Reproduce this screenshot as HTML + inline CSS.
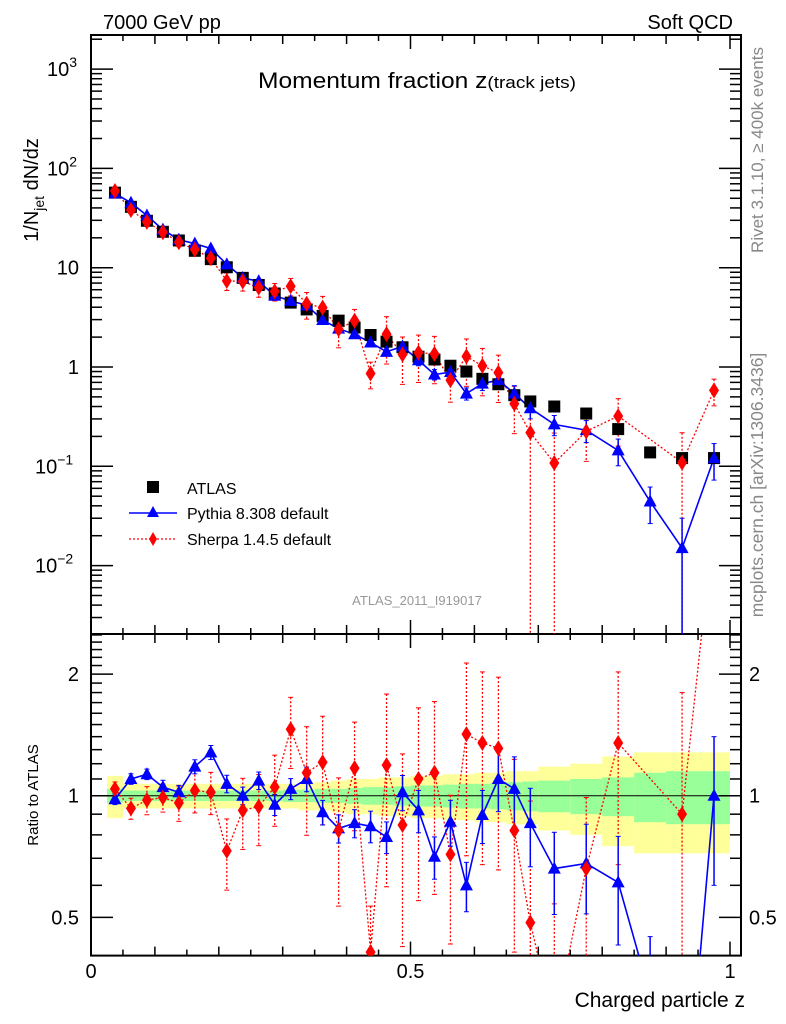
<!DOCTYPE html>
<html><head><meta charset="utf-8"><style>
html,body{margin:0;padding:0;background:#fff;width:786px;height:1024px;overflow:hidden;}
svg{display:block;font-family:"Liberation Sans",Arial,sans-serif;}
</style></head><body>
<svg id="chart" width="786" height="1024" viewBox="0 0 786 1024" xmlns="http://www.w3.org/2000/svg">
<g id="bands"></g>
<g id="axes"></g>
<g id="marks"></g>
<text x="103" y="29" font-size="20">7000 GeV pp</text>
<text x="733" y="29" font-size="20" text-anchor="end">Soft QCD</text>
<text x="258" y="88" font-size="22" textLength="318" lengthAdjust="spacingAndGlyphs">Momentum fraction z<tspan font-size="17">(track jets)</tspan></text>
<text transform="translate(38,190) rotate(-90)" font-size="20" text-anchor="middle">1/N<tspan font-size="14" dy="6">jet</tspan><tspan dy="-6"> dN/dz</tspan></text>
<text transform="translate(38,795) rotate(-90)" font-size="15" text-anchor="middle">Ratio to ATLAS</text>
<text x="745" y="1007" font-size="21" text-anchor="end">Charged particle z</text>
<text transform="translate(763,150) rotate(-90)" font-size="17" fill="#888" text-anchor="middle">Rivet 3.1.10, ≥ 400k events</text>
<text transform="translate(763,485) rotate(-90)" font-size="17.5" fill="#888" text-anchor="middle">mcplots.cern.ch [arXiv:1306.3436]</text>
<text x="417" y="605" font-size="13" fill="#999" text-anchor="middle">ATLAS_2011_I919017</text>
<g>
<rect x="147" y="481" width="12" height="12" fill="#000"/>
<text x="187" y="494" font-size="16">ATLAS</text>
<line x1="129" y1="513" x2="177" y2="513" stroke="#00f" stroke-width="1.5"/>
<polygon points="153,506 159,517 147,517" fill="#00f"/>
<text x="187" y="519" font-size="16">Pythia 8.308 default</text>
<line x1="129" y1="539" x2="177" y2="539" stroke="#f00" stroke-width="1.2" stroke-dasharray="2,2"/>
<polygon points="153,532 157,539 153,546 149,539" fill="#f00"/>
<text x="187" y="545" font-size="16">Sherpa 1.4.5 default</text>
</g>
</svg>
<script>
const binCenters=[0.0375,0.0625,0.0875,0.1125,0.1375,0.1625,0.1875,0.2125,0.2375,0.2625,0.2875,0.3125,0.3375,0.3625,0.3875,0.4125,0.4375,0.4625,0.4875,0.5125,0.5375,0.5625,0.5875,0.6125,0.6375,0.6625,0.6875,0.725,0.775,0.825,0.875,0.925,0.975];
const atlas=[57,41,29.7,23,18.8,14.8,12.2,10.1,7.9,6.7,5.5,4.45,3.8,3.27,2.93,2.5,2.1,1.8,1.58,1.27,1.19,1.03,0.9,0.76,0.67,0.52,0.45,0.40,0.34,0.237,0.138,0.121,0.121];
const pythiaRatio=[0.98,1.10,1.13,1.05,1.02,1.18,1.28,1.07,1.00,1.09,0.95,1.04,1.10,0.91,0.83,0.855,0.84,0.79,1.02,0.92,0.706,0.862,0.60,0.896,1.10,1.04,0.855,0.66,0.68,0.61,0.32,0.124,1.0];
const pythiaErr=[0.03,0.03,0.03,0.04,0.04,0.04,0.04,0.05,0.05,0.05,0.06,0.06,0.07,0.07,0.08,0.08,0.09,0.09,0.1,0.12,0.12,0.13,0.14,0.15,0.17,0.2,0.22,0.23,0.25,0.3,0.4,1.0,0.4];
const sherpaRatio=[1.04,0.93,0.975,0.99,0.96,1.03,1.02,0.73,0.92,0.94,1.05,1.46,1.14,1.21,0.82,1.17,0.41,1.19,0.846,1.10,1.14,0.716,1.42,1.35,1.31,0.82,0.485,0.27,0.66,1.35,null,0.90,4.8];
const sherpaErr=[0.04,0.06,0.08,0.08,0.1,0.12,0.12,0.2,0.2,0.2,0.2,0.2,0.3,0.3,0.35,0.3,0.3,0.5,0.5,0.5,0.5,0.4,0.5,0.5,0.5,0.5,1.0,1.0,0.5,0.5,null,1.0,0.3];
const greenBand=[0.04,0.03,0.03,0.03,0.03,0.03,0.03,0.03,0.03,0.03,0.03,0.035,0.035,0.04,0.04,0.045,0.05,0.05,0.055,0.06,0.06,0.065,0.07,0.07,0.075,0.08,0.085,0.09,0.1,0.11,0.14,0.15,0.15];
const yellowBand=[0.12,0.07,0.07,0.07,0.07,0.07,0.07,0.07,0.07,0.07,0.07,0.07,0.08,0.08,0.09,0.1,0.1,0.11,0.11,0.12,0.12,0.13,0.13,0.14,0.14,0.15,0.15,0.18,0.2,0.25,0.28,0.28,0.28];
const mainTicks=["10^3","10^2","10","1","10^-1","10^-2"];
const ratioTicks=[2,1,0.5];
const xTicks=[0,0.5,1];

const NS="http://www.w3.org/2000/svg";
const L=91,R=741,T=35,MB=634,RB=955.6;
const X=z=>L+z*639;
const YM=v=>267.7-(Math.log10(v)-1)*99.3;
const YR=v=>795.7-Math.log10(v)*404;
function mk(tag,attrs,parent){const e=document.createElementNS(NS,tag);for(const k in attrs)e.setAttribute(k,attrs[k]);parent.appendChild(e);return e;}
const axes=document.getElementById('axes'),marks=document.getElementById('marks'),bands=document.getElementById('bands');
const clipM=mk('clipPath',{id:'cm'},document.getElementById('chart'));mk('rect',{x:L,y:T,width:R-L,height:MB-T},clipM);
const clipR=mk('clipPath',{id:'cr'},document.getElementById('chart'));mk('rect',{x:L,y:MB,width:R-L,height:RB-MB},clipR);

const bg=mk('g',{'clip-path':'url(#cr)'},bands);
binCenters.forEach((c,i)=>{
 const hw=i<27?0.0125:0.025;
 const x1=X(c-hw),w=X(c+hw)-x1;
 const y=mk('rect',{x:x1,y:YR(1+yellowBand[i]),width:w,height:YR(1-yellowBand[i])-YR(1+yellowBand[i]),fill:'#ffff99'},bg);
 
 
 const g=mk('rect',{x:x1,y:YR(1+greenBand[i]),width:w,height:YR(1-greenBand[i])-YR(1+greenBand[i]),fill:'#99ff99'},bg);
 
 
});
mk('line',{x1:L,x2:R,y1:YR(1),y2:YR(1),stroke:'#000','stroke-width':1},axes);

mk('rect',{x:L,y:T,width:R-L,height:MB-T,fill:'none',stroke:'#000','stroke-width':2},axes);
mk('rect',{x:L,y:MB,width:R-L,height:RB-MB,fill:'none',stroke:'#000','stroke-width':2},axes);
for(let k=0;k<=20;k++){const z=k*0.05,x=X(z);const len=k%10==0?14:(k%2==0?9:6);
 [[T,1],[MB,-1],[MB,1],[RB,-1]].forEach(([y,d])=>mk('line',{x1:x,x2:x,y1:y,y2:y+d*len,stroke:'#000','stroke-width':1.5},axes));}
xTicks.forEach(t=>{const e=mk('text',{x:X(t),y:978,'font-size':20,'text-anchor':'middle'},axes);e.textContent=String(t);
 
 });
for(let d=-3;d<=3;d++){for(let m=1;m<10;m++){const v=m*Math.pow(10,d);const y=YM(v);if(y<T||y>MB)continue;const len=m==1?22:11;
 mk('line',{x1:L,x2:L+len,y1:y,y2:y,stroke:'#000','stroke-width':1.5},axes);mk('line',{x1:R,x2:R-len,y1:y,y2:y,stroke:'#000','stroke-width':1.5},axes);}}
const mainVals=[1000,100,10,1,0.1,0.01];
mainTicks.forEach((t,i)=>{const y=YM(mainVals[i])+7;const p=t.split('^');
 const e=mk('text',{x:79,y:y,'font-size':20,'text-anchor':'end'},axes);
 
 
 if(p.length>1){e.setAttribute('text-anchor','start');e.setAttribute('x',p[1].length>1?35:47);e.textContent='10';const s=mk('tspan',{'font-size':14,dy:-9},e);s.textContent=p[1].replace('-','−');}
 else{e.textContent=t;}});
[0.4,0.5,0.6,0.7,0.8,0.9,1,1.1,1.2,1.3,1.4,1.5,1.6,1.7,1.8,1.9,2,2.1,2.2,2.3,2.4,2.5].forEach(v=>{const y=YR(v);if(y<MB||y>RB)return;const len=(v==0.5||v==1||v==2)?22:11;
 mk('line',{x1:L,x2:L+len,y1:y,y2:y,stroke:'#000','stroke-width':1.5},axes);mk('line',{x1:R,x2:R-len,y1:y,y2:y,stroke:'#000','stroke-width':1.5},axes);});
ratioTicks.forEach(t=>{const y=YR(t)+7;
 const a=mk('text',{x:79,y:y,'font-size':20,'text-anchor':'end'},axes);a.textContent=String(t);
 
 
 const b=mk('text',{x:749,y:y,'font-size':20},axes);b.textContent=String(t);
 
 });

const gm=mk('g',{'clip-path':'url(#cm)'},marks),gr=mk('g',{'clip-path':'url(#cr)'},marks);
function err(g,x,y1,y2,col,dash,name){const l=mk('line',{x1:x,x2:x,y1:y1,y2:y2,stroke:col,'stroke-width':dash?1.3:1.5},g);if(dash)l.setAttribute('stroke-dasharray','2,2');
 
 
 mk('line',{x1:x-2.5,x2:x+2.5,y1:y1,y2:y1,stroke:col,'stroke-width':1},g);mk('line',{x1:x-2.5,x2:x+2.5,y1:y2,y2:y2,stroke:col,'stroke-width':1},g);}
function tri(g,x,y,name){const p=mk('polygon',{points:`${x},${y-7} ${x+6.5},${y+5} ${x-6.5},${y+5}`,fill:'#00f'},g);
 
 }
function dia(g,x,y,name){const p=mk('polygon',{points:`${x},${y-8} ${x+5},${y} ${x},${y+8} ${x-5},${y}`,fill:'#f00'},g);
 
 }
function seriesPath(g,pts,col,dash,name){let d='',pen=false;pts.forEach(p=>{if(!p){pen=false;return;}d+=(pen?'L':'M')+p[0].toFixed(1)+','+p[1].toFixed(1);pen=true;});
 const e=mk('path',{d:d,fill:'none',stroke:col,'stroke-width':dash?1.3:1.6},g);if(dash)e.setAttribute('stroke-dasharray','2,2');
 
 }
function clampLog(v){return Math.max(v,1e-4);}

const sM=[],sR=[];
binCenters.forEach((c,i)=>{const r=sherpaRatio[i];if(r==null){sM.push(null);sR.push(null);return;}
 const x=X(c),v=atlas[i]*r,e=sherpaErr[i];
 sM.push([x,YM(v)]);sR.push([x,YR(r)]);
 err(gm,x,YM(v*(1+e)),YM(clampLog(v*(1-e))),'#f00',true,'sherpa-error-bar');
 err(gr,x,YR(r*(1+e)),YR(clampLog(r*(1-e))),'#f00',true,'sherpa-ratio-error-bar');});
seriesPath(gm,sM.filter(p=>p),'#f00',true,'sherpa-line');
seriesPath(gr,sR.filter(p=>p),'#f00',true,'sherpa-ratio-line');
const pM=[],pR=[];
binCenters.forEach((c,i)=>{const r=pythiaRatio[i],x=X(c),v=atlas[i]*r,e=pythiaErr[i];
 pM.push([x,YM(v)]);pR.push([x,YR(r)]);
 err(gm,x,YM(v*(1+e)),YM(clampLog(v*(1-e))),'#00f',false,'pythia-error-bar');
 err(gr,x,YR(r*(1+e)),YR(clampLog(r*(1-e))),'#00f',false,'pythia-ratio-error-bar');});
seriesPath(gm,pM,'#00f',false,'pythia-line');
seriesPath(gr,pR,'#00f',false,'pythia-ratio-line');
binCenters.forEach((c,i)=>{const x=X(c),y=YM(atlas[i]);
 const s=mk('rect',{x:x-6,y:y-6,width:12,height:12,fill:'#000'},gm);
 
 });
binCenters.forEach((c,i)=>{const r=pythiaRatio[i],x=X(c);tri(gm,x,YM(atlas[i]*r),'pythia-point');tri(gr,x,YR(r),'pythia-ratio-point');});
binCenters.forEach((c,i)=>{const r=sherpaRatio[i];if(r==null)return;const x=X(c);dia(gm,x,YM(atlas[i]*r),'sherpa-point');dia(gr,x,YR(r),'sherpa-ratio-point');});
</script>
</body></html>
